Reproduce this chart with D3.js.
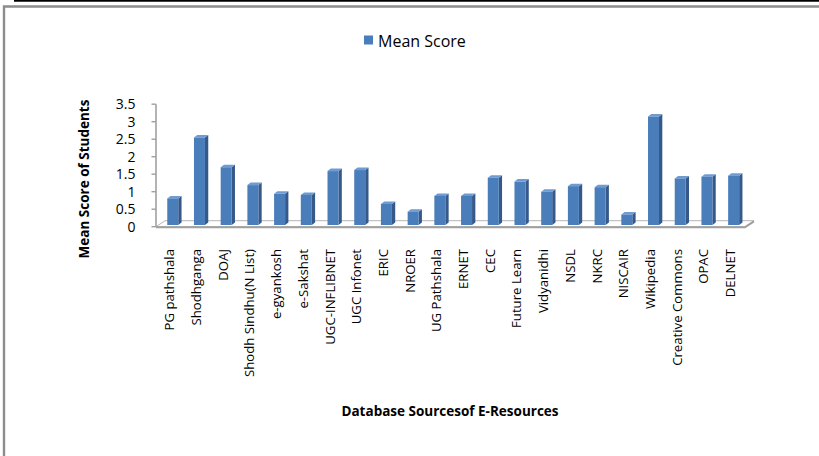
<!DOCTYPE html>
<html>
<head>
<meta charset="utf-8">
<script src="https://cdn.jsdelivr.net/npm/d3@7"></script>
<style>
  body { margin: 0; background: #fff; }
  text { font-family: "Open Sans", sans-serif; fill: #000; }
</style>
</head>
<body>
<div id="chart"></div>
<script>
// data
var categories = ["PG pathshala", "Shodhganga", "DOAJ", "Shodh Sindhu(N List)", "e-gyankosh",
  "e-Sakshat", "UGC-INFLIBNET", "UGC Infonet", "ERIC", "NROER", "UG Pathshala", "ERNET",
  "CEC", "Future Learn", "Vidyanidhi", "NSDL", "NKRC", "NISCAIR", "Wikipedia",
  "Creative Commons", "OPAC", "DELNET"];
var meanScore = [0.76, 2.5, 1.65, 1.14, 0.89, 0.86, 1.54, 1.57, 0.6, 0.38, 0.83, 0.83,
  1.35, 1.24, 0.95, 1.11, 1.08, 0.3, 3.1, 1.33, 1.38, 1.41];
var yTicks = [0, 0.5, 1, 1.5, 2, 2.5, 3, 3.5];
var seriesName = "Mean Score";

const W = 819, H = 456;
const svg = d3.select("#chart").append("svg")
    .attr("width", W)
    .attr("height", H);

svg.append("rect").attr("width", W).attr("height", H).attr("fill", "#fff");

// page frame
svg.append("line").attr("x1", 14).attr("x2", W).attr("y1", 0.8).attr("y2", 0.8)
    .attr("stroke", "#000").attr("stroke-width", 1.8);
svg.append("path").attr("d", "M4,456 L4,6.5 L819,6.5")
    .attr("fill", "none").attr("stroke", "#8c8c8c").attr("stroke-width", 2.4);

const y = d3.scaleLinear().domain([0, 3.5]).range([226.7, 104.2]);
const x = d3.scaleBand().domain(categories).range([159.4, 747]);

// 3d floor
const fdx = 9, fdy = 6;
const fx0 = 156, fx1 = 745, fy = y(0);
svg.append("path")
    .attr("d", `M${fx0},${fy} L${fx1},${fy} L${fx1 + fdx},${fy - fdy} L${fx0 + fdx},${fy - fdy} Z`)
    .attr("fill", "#fff").attr("stroke", "#b4b4b4").attr("stroke-width", 1);
svg.append("path")
    .attr("d", `M${fx0},${fy + 0.6} L${fx1},${fy + 0.6} L${fx1 + fdx},${fy - fdy + 0.6}`)
    .attr("fill", "none").attr("stroke", "#a0a0a0").attr("stroke-width", 2);

// value axis
svg.append("line").attr("x1", 156).attr("x2", 156).attr("y1", y(3.5)).attr("y2", y(0))
    .attr("stroke", "#a0a0a0").attr("stroke-width", 1.6);
svg.selectAll(".ytick").data(yTicks).enter().append("line")
    .attr("x1", 151.5).attr("x2", 156)
    .attr("y1", function(d) { return y(d); })
    .attr("y2", function(d) { return y(d); })
    .attr("stroke", "#a0a0a0").attr("stroke-width", 1.4);
svg.selectAll(".ylab").data(yTicks).enter().append("text")
    .attr("x", 135.5)
    .attr("y", function(d) { return y(d) + 5; })
    .attr("text-anchor", "end")
    .attr("font-size", 14)
    .text(function(d) { return d; });

// bars with a small depth
const bw = 11, bdx = 3.3, bdy = 2.5, lift = 1.7;
const bars = svg.selectAll(".bar").data(meanScore).enter().append("g");
bars.append("path")  // side
    .attr("d", function(d, i) {
      const l = x(categories[i]) + x.bandwidth() / 2 + bw / 2, t = y(d) - lift, b = y(0) - lift;
      return `M${l},${t} L${l + bdx},${t - bdy} L${l + bdx},${b - bdy} L${l},${b} Z`;
    })
    .attr("fill", "#36598a");
bars.append("path")  // top
    .attr("d", function(d, i) {
      const l = x(categories[i]) + x.bandwidth() / 2 - bw / 2, t = y(d) - lift;
      return `M${l},${t} L${l + bdx},${t - bdy} L${l + bw + bdx},${t - bdy} L${l + bw},${t} Z`;
    })
    .attr("fill", "#6f9bd2");
bars.append("rect")  // front
    .attr("x", function(d, i) { return x(categories[i]) + x.bandwidth() / 2 - bw / 2; })
    .attr("y", function(d) { return y(d) - lift; })
    .attr("width", bw)
    .attr("height", function(d) { return y(0) - y(d); })
    .attr("fill", "#4a7ebb");

// category labels
svg.selectAll(".xlab").data(categories).enter().append("text")
    .attr("transform", function(d) {
      return "translate(" + (x(d) + x.bandwidth() / 2 + 1.5) + ",249) rotate(-90)";
    })
    .attr("text-anchor", "end")
    .attr("font-size", 13.2)
    .text(function(d) { return d; });

// titles
svg.append("text")
    .attr("transform", "translate(89,179) rotate(-90)")
    .attr("text-anchor", "middle")
    .attr("font-size", 13.5).attr("font-weight", "bold")
    .text("Mean Score of Students");
svg.append("text")
    .attr("x", 450).attr("y", 416)
    .attr("text-anchor", "middle")
    .attr("font-size", 13.5).attr("font-weight", "bold")
    .text("Database Sourcesof E-Resources");

// legend
svg.append("rect").attr("x", 364).attr("y", 35.5).attr("width", 9).attr("height", 9).attr("fill", "#4a7ebb");
svg.append("text").attr("x", 378).attr("y", 46.5).attr("font-size", 16).text(seriesName);
</script>
</body>
</html>
